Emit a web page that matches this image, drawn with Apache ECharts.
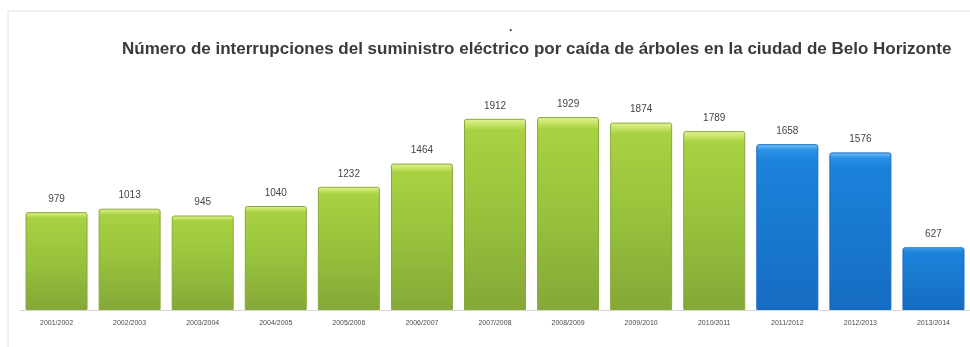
<!DOCTYPE html>
<html>
<head>
<meta charset="utf-8">
<script src="https://cdn.jsdelivr.net/npm/echarts@6/dist/echarts.min.js"></script>
<style>
  html, body { margin: 0; padding: 0; background: #fff; }
  #chart { width: 970px; height: 347px; }
</style>
</head>
<body>
<div id="chart"></div>
<script>
// Interruptions of electricity supply caused by falling trees, Belo Horizonte
const periods = [
  '2001/2002', '2002/2003', '2003/2004', '2004/2005', '2005/2006', '2006/2007',
  '2007/2008', '2008/2009', '2009/2010', '2010/2011', '2011/2012', '2012/2013', '2013/2014'
];
const interruptions = [979, 1013, 945, 1040, 1232, 1464, 1912, 1929, 1874, 1789, 1658, 1576, 627];
// periods from this index on are drawn in blue
const firstBluePeriod = 10;

// vertical shading with a pale highlight along the top edge
const greenStyle = {
  color: new echarts.graphic.LinearGradient(0, 0, 0, 1, [
    { offset: 0, color: '#e2f39a' },
    { offset: 0.03, color: '#c6e466' },
    { offset: 0.06, color: '#a8d142' },
    { offset: 0.5, color: '#98c23c' },
    { offset: 1, color: '#84a838' }
  ]),
  borderColor: '#86aa38',
  borderWidth: 1,
  borderRadius: [2, 2, 0, 0]
};
const blueStyle = {
  color: new echarts.graphic.LinearGradient(0, 0, 0, 1, [
    { offset: 0, color: '#7cc4f7' },
    { offset: 0.035, color: '#2a92e6' },
    { offset: 0.1, color: '#1b82da' },
    { offset: 1, color: '#166cc2' }
  ]),
  borderColor: '#1668bc',
  borderWidth: 1,
  borderRadius: [2, 2, 0, 0]
};

const barData = interruptions.map((v, i) => ({
  value: v,
  itemStyle: i >= firstBluePeriod ? blueStyle : greenStyle
}));

const chart = echarts.init(document.getElementById('chart'), null, { renderer: 'canvas' });
chart.setOption({
  animation: false,
  backgroundColor: '#ffffff',
  title: {
    text: 'Número de interrupciones del suministro eléctrico por caída de árboles en la ciudad de Belo Horizonte',
    left: 117,
    top: 36,
    textStyle: {
      fontFamily: 'Liberation Sans, sans-serif',
      fontWeight: 'bold',
      fontSize: 17,
      color: '#3a3a3a'
    }
  },
  graphic: [
    {
      type: 'polyline',
      shape: { points: [[8, 347], [8, 11], [970, 11]] },
      style: { stroke: '#e4e4e4', lineWidth: 1, fill: null },
      silent: true
    },
    {
      type: 'text',
      left: 509,
      top: 22,
      style: { text: '.', fontSize: 12, fontWeight: 'bold', fill: '#333' },
      silent: true
    }
  ],
  grid: { left: 20, right: 0, top: 100, bottom: 37 },
  xAxis: {
    type: 'category',
    data: periods,
    axisLine: { lineStyle: { color: '#d6d6d6', width: 1 } },
    axisTick: { show: false },
    axisLabel: {
      interval: 0,
      margin: 10,
      fontSize: 7,
      fontFamily: 'Liberation Sans, sans-serif',
      color: '#4a4a4a'
    }
  },
  yAxis: {
    type: 'value',
    min: 0,
    max: 2100,
    show: false,
    splitLine: { show: false }
  },
  series: [{
    type: 'bar',
    data: barData,
    barWidth: 62,
    label: {
      show: true,
      position: 'top',
      distance: 8,
      fontSize: 10,
      fontFamily: 'Liberation Sans, sans-serif',
      color: '#454545'
    }
  }]
});
</script>
</body>
</html>
